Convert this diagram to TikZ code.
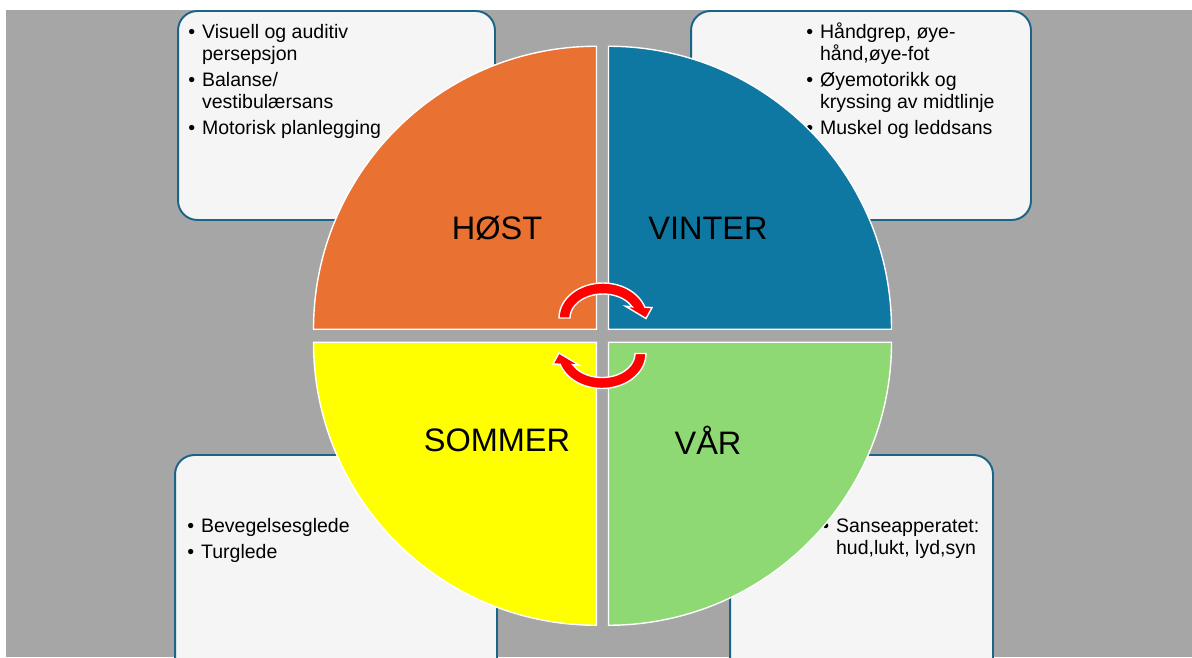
\documentclass[tikz,border=0pt]{standalone}
\usepackage{fontspec}
\setmainfont{Liberation Sans}
\usetikzlibrary{positioning}

\definecolor{bakgrunn}{HTML}{A6A6A6}
\definecolor{hostfarge}{HTML}{E97132}
\definecolor{vinterfarge}{HTML}{0E77A2}
\definecolor{sommerfarge}{HTML}{FFFF00}
\definecolor{varfarge}{HTML}{8ED973}
\definecolor{kantlinje}{HTML}{1A6488}
\definecolor{boksfyll}{HTML}{F5F5F5}

% bullet in front of each item
\newcommand{\pkt}{\makebox[7.8pt][l]{\textbullet}}

\begin{document}
\begin{tikzpicture}[x=0.02cm, y=0.02cm,
    infoboks/.style={rectangle, draw=kantlinje, fill=boksfyll, line width=1.1pt, rounded corners=11pt},
    punkter/.style={inner sep=0pt, font=\fontsize{11.1}{12.5}\selectfont},
    kvart/.style={draw=white, line width=0.8pt},
    aarstid/.style={inner sep=0pt, font=\fontsize{18.5}{20}\selectfont},
    rundpil/.pic={
        \filldraw[fill=red, draw=white, line width=0.8pt]
            (-44,0) arc[start angle=180, end angle=18, x radius=44, y radius=35]
            -- (49,10.4) -- (43,-0.5) -- (22.5,11.8) -- (29.19,11.19)
            arc[start angle=27.8, end angle=180, x radius=33, y radius=24] -- cycle;
    }]
    \useasboundingbox (0,0) rectangle (1192,657);
    \fill[bakgrunn] (6,0) rectangle (1192,647);

    % boxes with the bullet lists
    \begin{scope}
        \clip (6,0) rectangle (1192,647);
        \node[infoboks, minimum width=6.34cm, minimum height=4.18cm] (hostboks) at (336.5,541.5) {};
        \node[infoboks, minimum width=6.8cm, minimum height=4.18cm] (vinterboks) at (861,541.5) {};
        \node[infoboks, minimum width=6.44cm, minimum height=4.84cm] (sommerboks) at (336,81) {};
        \node[infoboks, minimum width=5.26cm, minimum height=4.84cm] (varboks) at (861.5,81) {};
    \end{scope}
    \node[punkter, below right=0.25cm and 0.22cm of hostboks.north west] (hosttekst)
        {\begin{tabular}{@{}l@{}l@{}}
         \pkt & Visuell og auditiv\\ & persepsjon\\[2.3pt]
         \pkt & Balanse/\\ & vestibulærsans\\[2.3pt]
         \pkt & Motorisk planlegging
         \end{tabular}};
    \node[punkter, below right=0.25cm and 2.32cm of vinterboks.north west] (vintertekst)
        {\begin{tabular}{@{}l@{}l@{}}
         \pkt & Håndgrep, øye-\\ & hånd,øye-fot\\[2.3pt]
         \pkt & Øyemotorikk og\\ & kryssing av midtlinje\\[2.3pt]
         \pkt & Muskel og leddsans
         \end{tabular}};
    \node[punkter, below right=1.25cm and 0.26cm of sommerboks.north west] (sommertekst)
        {\begin{tabular}{@{}l@{}l@{}}
         \pkt & Bevegelsesglede\\[2.3pt]
         \pkt & Turglede
         \end{tabular}};
    \node[punkter, below right=1.25cm and 1.86cm of varboks.north west] (vartekst)
        {\begin{tabular}{@{}l@{}l@{}}
         \pkt & Sanseapperatet:\\ & hud,lukt, lyd,syn
         \end{tabular}};

    % the four quarters of the circle
    \def\R{283}
    \filldraw[fill=hostfarge, kvart] (596.5,327.75) -- ++(-\R,0) arc[start angle=180, end angle=90, radius=\R] -- cycle;
    \filldraw[fill=vinterfarge, kvart] (608.5,327.75) -- ++(0,\R) arc[start angle=90, end angle=0, radius=\R] -- cycle;
    \filldraw[fill=sommerfarge, kvart] (596.5,314.75) -- ++(0,-\R) arc[start angle=270, end angle=180, radius=\R] -- cycle;
    \filldraw[fill=varfarge, kvart] (608.5,314.75) -- ++(\R,0) arc[start angle=0, end angle=-90, radius=\R] -- cycle;

    \node[aarstid] (host) at (497,429) {HØST};
    \node[aarstid] (vinter) at (708,429) {VINTER};
    \node[aarstid] (sommer) at (497,217) {SOMMER};
    \node[aarstid] (var) at (708,217) {VÅR};

    % turning arrows in the middle
    \pic at (603,339) {rundpil};
    \pic[rotate=180] at (602,303.5) {rundpil};
\end{tikzpicture}
\end{document}
